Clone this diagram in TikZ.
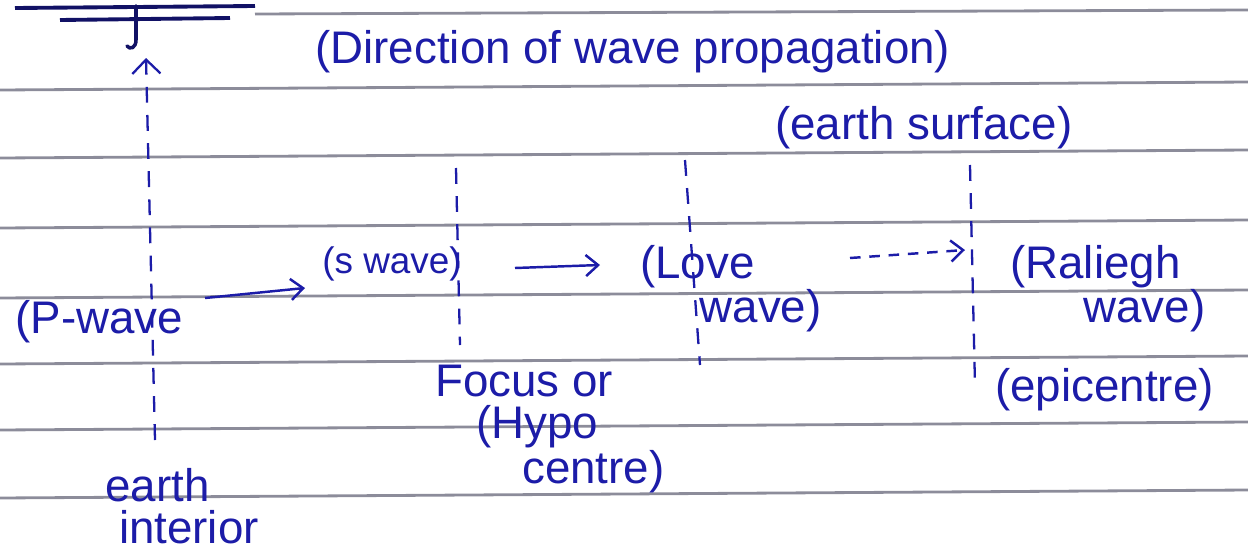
\documentclass[tikz,border=0pt]{standalone}
\usepackage{fontspec}
\setmainfont{Liberation Sans}
\usetikzlibrary{arrows.meta}
\definecolor{ink}{HTML}{1C1CA8}
\definecolor{rule}{HTML}{8C8C9A}

\begin{document}
\begin{tikzpicture}[x=0.2mm,y=-0.2mm,
  font=\fontsize{26}{24}\selectfont,
  lbl/.style={text=ink,inner sep=0pt,align=left},
  axis/.style={ink,line width=1.3pt,dash pattern=on 9pt off 7pt},
  flow/.style={ink,line width=1.4pt,-{Straight Barb[length=7pt,width=12pt]}}]
  \useasboundingbox (0,0) rectangle (1248,556);
  \clip (0,0) rectangle (1248,556);

  % notebook rules
  \draw[rule,line width=1.6pt] (255,14) -- (1248,10);
  \foreach \y in {86,154,224,294,360,426,494}
    \draw[rule,line width=1.6pt] (0,\y+4) -- (1248,\y-4);

  % heading underline (the heading itself is off the page)
  \draw[ink!60!black,line width=2.2pt] (15,8) -- (255,6);
  \draw[ink!60!black,line width=2.2pt] (60,20) -- (230,18);
  \draw[ink!60!black,line width=2pt,line cap=round] (136,6) -- (136,40) .. controls (136,48) and (130,50) .. (127,46);

  % vertical markers
  \coordinate (inbot) at (155,440);
  \coordinate (intop) at (146,58);
  \coordinate (fotop) at (456,168);
  \coordinate (fobot) at (460,345);
  \coordinate (lotop) at (685,160);
  \coordinate (lobot) at (700,365);
  \coordinate (eptop) at (970,165);
  \coordinate (epbot) at (975,385);
  \draw[axis,-{Straight Barb[length=8pt,width=16pt]}] (inbot) -- (intop);
  \draw[axis] (fotop) -- (fobot);
  \draw[axis] (lotop) -- (lobot);
  \draw[axis] (eptop) -- (epbot);

  % labels
  \node[lbl,anchor=west] (dir) at (315,52) {(Direction of wave propagation)};
  \node[lbl,anchor=west] (surf) at (775,128) {(earth surface)};
  \node[lbl,anchor=west] (pw) at (15,322) {(P-wave};
  \node[lbl,anchor=west,font=\fontsize{21}{22}\selectfont] (sw) at (322,264) {(s wave)};
  \node[lbl,anchor=north west] (lw) at (640,245) {(Love\\\hspace*{1.3em}wave)};
  \node[lbl,anchor=north west] (rw) at (1010,245) {(Raliegh\\\hspace*{1.6em}wave)};
  \node[lbl,anchor=west] (epi) at (995,390) {(epicentre)};
  \node[lbl,anchor=north west] (foc) at (435,365) {Focus or\\\hspace*{0.9em}(Hypo\\\hspace*{1.9em}centre)};
  \node[lbl,anchor=north west] (ei) at (105,468) {earth\\\hspace*{0.3em}interior};

  % direction of travel
  \coordinate (a1) at (205,298);
  \coordinate (a2) at (305,288);
  \coordinate (b1) at (515,268);
  \coordinate (b2) at (600,265);
  \coordinate (c1) at (850,258);
  \coordinate (c2) at (965,250);
  \draw[flow] (a1) -- (a2);
  \draw[flow] (b1) -- (b2);
  \draw[flow,dash pattern=on 6pt off 5pt] (c1) -- (c2);
\end{tikzpicture}
\end{document}
